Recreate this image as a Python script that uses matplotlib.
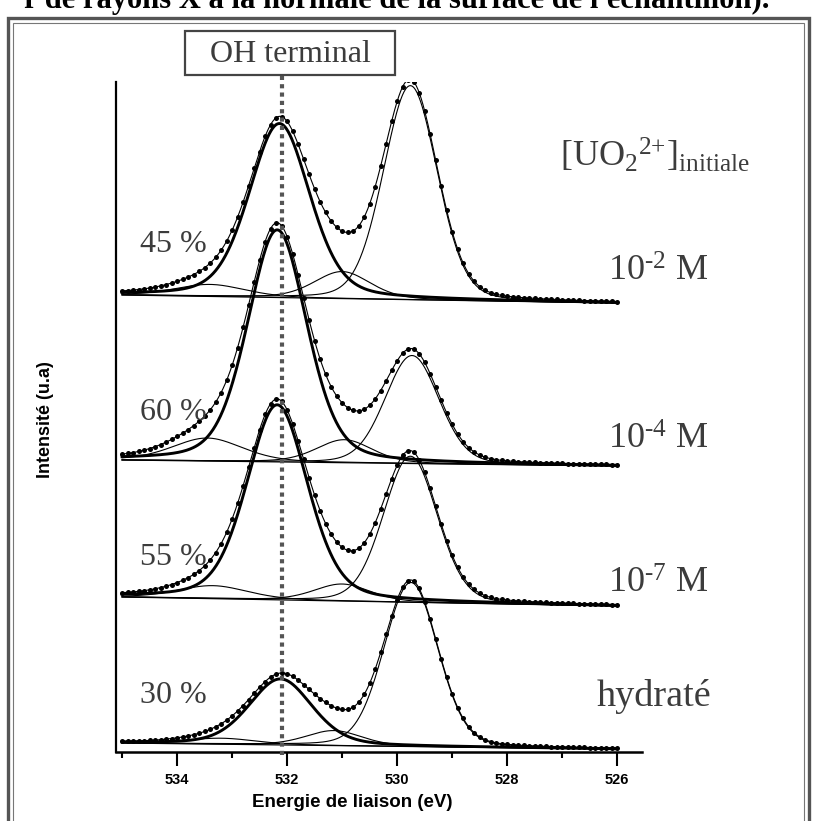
import numpy as np
import matplotlib
matplotlib.use("Agg")
import matplotlib.pyplot as plt
from matplotlib.patches import Rectangle

plt.rcParams['mathtext.fontset'] = 'custom'
plt.rcParams['mathtext.rm'] = 'Liberation Serif'
plt.rcParams['mathtext.it'] = 'Liberation Serif'

# ---------------- data ----------------
spectra = [r"10$^{\text{-2}}$ M", r"10$^{\text{-4}}$ M", r"10$^{\text{-7}}$ M", "hydraté"]
oh_percent = ["45 %", "60 %", "55 %", "30 %"]

# linear background (intensity, a.u.) at 535 eV and 526 eV
bg_left = [457, 292, 155, 9]
bg_right = [449, 286, 146, 3]

# fitted components: high-BE (H2O), OH terminal, bridging OH, lattice O
hbe_center = [533.40, 533.45, 533.35, 533.20]
hbe_height = [12, 23, 13, 6]
hbe_fwhm = [1.5, 1.5, 1.5, 1.5]

oh_center = [532.14, 532.18, 532.18, 532.12]
oh_height = [174, 232, 195, 66]
oh_fwhm = [1.30, 1.27, 1.30, 1.35]

br_center = [531.00, 530.96, 531.00, 531.15]
br_height = [27, 23, 17, 15]
br_fwhm = [1.2, 1.2, 1.2, 1.2]

lat_center = [529.76, 529.73, 529.76, 529.75]
lat_height = [214, 108, 146, 164]
lat_fwhm = [1.15, 1.15, 1.15, 1.15]

gl_mix = [0.3, 0.3, 0.3, 0.15]   # Lorentzian fraction per component type

e_start, e_stop, e_step = 535.0, 526.0, 0.1
oh_terminal_energy = 532.10

major_ticks = [534, 532, 530, 528, 526]
minor_ticks = [535, 533, 531, 529, 527]

# ---------------- figure ----------------
W, H = 813, 821
fig = plt.figure(figsize=(W / 100, H / 100), dpi=100)

def fx(px):
    return px / W

def fy(py):
    return 1 - py / H

ax = fig.add_axes([fx(116), fy(752), fx(642) - fx(116), fy(82) - fy(752)])
ax.set_xlim(535.11, 525.55)
ax.set_ylim(0, 670)

def pv(E, c, h, fwhm, eta):
    x = (E - c) / (fwhm / 2)
    return h * ((1 - eta) * np.exp(-np.log(2) * x ** 2) + eta / (1 + x ** 2))

E_fine = np.linspace(e_start, e_stop, 600)
n_pts = int(round((e_start - e_stop) / e_step)) + 1
E_pts = np.linspace(e_start, e_stop, n_pts)

for i in range(len(spectra)):
    def bg(E):
        return bg_left[i] + (bg_right[i] - bg_left[i]) * (e_start - E) / (e_start - e_stop)
    comps = [
        (hbe_center[i], hbe_height[i], hbe_fwhm[i], gl_mix[0]),
        (oh_center[i], oh_height[i], oh_fwhm[i], gl_mix[1]),
        (br_center[i], br_height[i], br_fwhm[i], gl_mix[2]),
        (lat_center[i], lat_height[i], lat_fwhm[i], gl_mix[3]),
    ]
    base = bg(E_fine)
    env = base.copy()
    for k, (c, h, w, eta) in enumerate(comps):
        comp = pv(E_fine, c, h, w, eta)
        env += comp
        if k == 1:
            ax.plot(E_fine, base + comp, color='black', lw=2.1, zorder=3)
        else:
            ax.plot(E_fine, base + comp, color='black', lw=0.8, zorder=2)
    ax.plot(E_fine, base, color='black', lw=0.9, zorder=2)
    ax.plot(E_fine, env, color='black', lw=0.8, zorder=2)
    pts = bg(E_pts) + sum(pv(E_pts, c, h, w, eta) for c, h, w, eta in comps)
    ax.plot(E_pts, pts, 'o', color='black', ms=3.6, mew=0, zorder=4)

# OH terminal dotted line
ax.plot([oh_terminal_energy, oh_terminal_energy], [-3, 677], color='#555555',
        lw=3.0, ls=(0, (1.0, 1.0)), clip_on=False, zorder=5, solid_capstyle='butt')

# axes styling
for s in ['top', 'right']:
    ax.spines[s].set_visible(False)
ax.spines['left'].set_linewidth(1.6)
ax.spines['bottom'].set_linewidth(1.8)
ax.set_yticks([])
ax.set_xticks(major_ticks)
ax.set_xticks(minor_ticks, minor=True)
ax.tick_params(axis='x', which='major', length=10, width=1.5, direction='out', pad=5,
               labelsize=10.5)
ax.tick_params(axis='x', which='minor', length=4.5, width=1.5, direction='out')
for lab in ax.get_xticklabels():
    lab.set_fontweight('bold')
    lab.set_family('Liberation Sans')

fig.text(fx(352), fy(802), "Energie de liaison (eV)", ha='center', va='center',
         fontsize=13.5, fontweight='bold', family='Liberation Sans')
fig.text(fx(45), fy(420), "Intensité (u.a)", ha='center', va='center', rotation=90,
         fontsize=13, fontweight='bold', family='Liberation Sans')

gray = '#3c3c3c'
serif = 'Liberation Serif'
# percentages
pct_y = [252, 420, 565, 703]
for t, py in zip(oh_percent, pct_y):
    fig.text(fx(140), fy(py), t, ha='left', va='baseline', fontsize=23,
             color=gray, family=serif)
# concentrations
conc_y = [281, 449, 593, 706]
conc_x = [608, 608, 608, 597]
conc_size = [26, 26, 26, 27.5]
for t, px, py, fs in zip(spectra, conc_x, conc_y, conc_size):
    fig.text(fx(px), fy(py), t, ha='left', va='baseline', fontsize=fs,
             color=gray, family=serif)
fig.text(fx(560), fy(167), r"[UO$_2$$^{\text{2+}}$]$_{\text{initiale}}$", ha='left',
         va='baseline', fontsize=26, color=gray, family=serif)

# OH terminal box
fig.add_artist(Rectangle((fx(185), fy(75)), fx(395) - fx(185), fy(31) - fy(75),
                         transform=fig.transFigure, fill=False, ec='#444444', lw=1.6))
fig.text(fx(290), fy(54), "OH terminal", ha='center', va='center', fontsize=23,
         color=gray, family=serif)

# outer page frame (double line)
fig.add_artist(Rectangle((fx(8), fy(830)), fx(809) - fx(8), fy(18) - fy(830),
                         transform=fig.transFigure, fill=False, ec='#555555', lw=2.4))
fig.add_artist(Rectangle((fx(13), fy(830)), fx(804) - fx(13), fy(23) - fy(830),
                         transform=fig.transFigure, fill=False, ec='#777777', lw=0.8))

# cropped caption at top
fig.text(fx(769), fy(8), "r de rayons X à la normale de la surface de l'échantillon).",
         ha='right', va='baseline', fontsize=22, fontweight='bold', family=serif,
         color='black')

fig.savefig("out.png", dpi=100)
